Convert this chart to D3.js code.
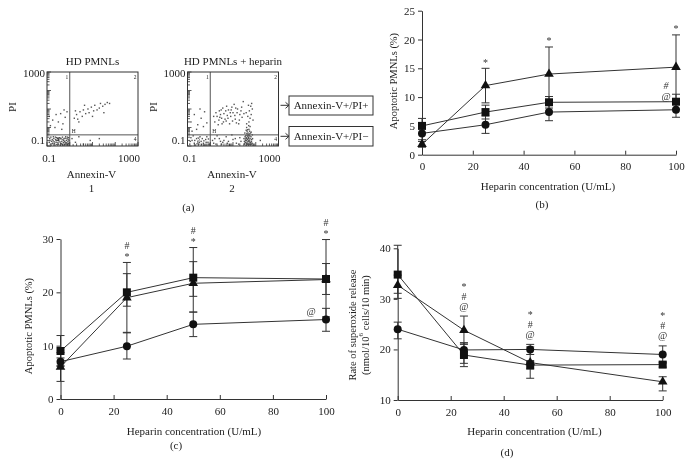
<!DOCTYPE html>
<html><head><meta charset="utf-8">
<script src="https://cdn.jsdelivr.net/npm/d3@7"></script>
<style>
body{margin:0;background:#fff}
svg{display:block;will-change:transform}
</style>
</head><body>
<svg id="chart" width="690" height="463"></svg>
<script>
// ---------------- DATA ----------------
const conc = [0, 25, 50, 100];
const xTickVals = [0, 20, 40, 60, 80, 100];

// Panel (b)
const bYTicks = [0, 5, 10, 15, 20, 25];
const bTriangle = [1.8, 12.0, 14.0, 15.2];
const bSquare   = [5.0, 7.4, 9.1, 9.2];
const bCircle   = [3.7, 5.2, 7.4, 7.8];
const bTriangleErr = [[0.5,0.5],[3.0,3.0],[4.7,4.7],[5.6,5.6]];
const bSquareErr   = [[1.3,1.3],[1.2,1.2],[1.0,1.0],[1.3,1.3]];
const bCircleErr   = [[1.1,1.1],[1.5,1.5],[1.5,1.5],[1.3,1.3]];
const bTopMarks  = [[], ["*"], ["*"], ["*"]];
const bSideMarks = ["@", "#"];

// Panel (c)
const cYTicks = [0, 10, 20, 30];
const cSquare   = [9.0, 20.0, 22.75, 22.5];
const cTriangle = [6.0, 19.0, 21.7, 22.4];
const cCircle   = [7.0, 9.9, 14.0, 14.9];
const cSquareErr   = [[2.9,2.9],[3.5,2.6],[3.0,3.5],[2.9,2.9]];
const cTriangleErr = [[2.7,2.7],[6.6,6.6],[6.7,5.4],[7.5,7.0]];
const cCircleErr   = [[0.7,0.7],[2.6,2.4],[2.3,2.3],[2.1,2.2]];
const cTopMarks  = [[], ["*","#"], ["*","#"], ["*","#"]];
const cSideMarks = ["@"];

// Panel (d)
const dYTicks = [10, 20, 30, 40];
const dSquare   = [34.8, 18.9, 16.9, 17.0];
const dTriangle = [32.7, 23.8, 17.4, 13.6];
const dCircle   = [24.0, 19.9, 20.0, 19.0];
const dSquareErr   = [[5.8,3.7],[2.4,2.3],[0.9,0.8],[0.5,0.5]];
const dTriangleErr = [[2.0,2.6],[2.8,2.8],[3.1,3.1],[1.0,1.8]];
const dCircleErr   = [[1.4,1.9],[1.4,2.65],[1.0,1.0],[1.7,1.7]];
const dTopMarks = [[], ["@","#","*"], ["@","#","*"], ["@","#","*"]];

// Panel (a): flow cytometry dots, [log10(Annexin-V), log10(PI)]
const flow1Log = [
 [-0.85,-0.9],[-0.8,-0.75],[-0.75,-0.85],[-0.7,-0.6],[-0.65,-0.95],[-0.6,-0.8],[-0.55,-0.7],[-0.5,-0.9],
 [-0.45,-0.55],[-0.4,-0.85],[-0.35,-0.75],[-0.3,-0.95],[-0.25,-0.6],[-0.2,-0.8],[-0.15,-0.7],[-0.1,-0.9],
 [-0.05,-0.55],[-0.88,-0.6],[-0.72,-0.5],[-0.62,-0.65],[-0.48,-0.72],[-0.38,-0.62],[-0.28,-0.82],[-0.18,-0.5],
 [-0.08,-0.75],[-0.82,-0.95],[-0.58,-0.55],[-0.42,-0.95],[-0.22,-0.92],[-0.12,-0.6],[-0.68,-0.78],[-0.52,-0.82],
 [-0.32,-0.52],[-0.9,-0.8],[-0.05,-0.85],
 [-0.87,-0.7],[-0.77,-0.65],[-0.67,-0.88],[-0.57,-0.92],[-0.47,-0.62],[-0.37,-0.88],[-0.27,-0.7],[-0.17,-0.88],
 [-0.07,-0.65],[-0.83,-0.52],[-0.73,-0.72],[-0.63,-0.52],[-0.53,-0.6],[-0.43,-0.78],[-0.33,-0.92],[-0.23,-0.75],
 [-0.13,-0.82],[-0.03,-0.7],[-0.78,-0.88],[-0.5,-0.68],[-0.4,-0.58],[-0.2,-0.58],[-0.1,-0.52],[-0.6,-0.7],[-0.3,-0.65],
 [-0.85,0.1],[-0.75,0.4],[-0.6,0.7],[-0.5,0.3],[-0.4,0.75],[-0.3,0.2],[-0.2,0.55],[-0.12,0.85],[-0.65,0.0],
 [-0.35,-0.1],[-0.9,0.6],[-0.25,0.95],
 [0.2,0.5],[0.3,0.7],[0.35,0.45],[0.45,0.85],[0.55,0.6],[0.6,0.95],[0.7,0.75],[0.8,1.0],[0.85,0.8],[0.95,1.1],
 [1.05,0.9],[1.1,1.2],[1.2,0.95],[1.3,1.05],[1.35,1.3],[1.45,1.15],[1.55,1.25],[1.65,1.35],[1.75,1.3],[0.4,0.3],
 [1.0,0.6],[0.25,0.9],[1.5,0.8],[0.65,1.2],
 [0.1,-0.6],[0.25,-0.8],[0.4,-0.5],[0.6,-0.9],[0.9,-0.7],[1.3,-0.6],[0.15,-0.95]
];
const flow2Log = [
 [1.5,-0.9],[1.55,-0.7],[1.6,-0.85],[1.65,-0.5],[1.7,-0.75],[1.75,-0.6],[1.8,-0.9],[1.85,-0.4],[1.52,-0.3],
 [1.62,-0.2],[1.72,-0.35],[1.58,-0.55],[1.68,-0.95],[1.78,-0.8],[1.48,-0.6],[1.64,-0.65],[1.74,-0.45],[1.56,-0.45],
 [1.66,-0.3],[1.7,-0.1],[1.6,0.0],[1.75,0.05],[1.55,-0.8],[1.82,-0.65],[1.68,-0.72],[1.62,-0.42],
 [1.5,-0.75],[1.53,-0.5],[1.57,-0.95],[1.6,-0.6],[1.63,-0.78],[1.66,-0.88],[1.69,-0.55],[1.71,-0.9],[1.73,-0.68],
 [1.76,-0.82],[1.79,-0.5],[1.81,-0.75],[1.84,-0.85],[1.54,-0.62],[1.61,-0.32],[1.67,-0.4],[1.73,-0.2],[1.77,-0.3],
 [1.64,-0.12],[1.69,0.1],[1.58,-0.15],[1.8,-0.25],[1.86,-0.6],[1.52,-0.85],[1.67,-0.6],[1.71,-0.78],[1.63,-0.9],
 [1.75,-0.9],[1.59,-0.7],[1.7,-0.45],
 [1.6,0.2],[1.7,0.3],[1.75,0.5],[1.65,0.6],[1.8,0.7],[1.72,0.9],[1.85,1.0],[1.78,1.15],[1.68,1.2],[1.82,1.3],
 [1.58,0.8],[1.88,0.4],
 [0.2,0.3],[0.3,0.6],[0.4,0.9],[0.5,0.5],[0.6,0.75],[0.7,0.35],[0.8,0.95],[0.9,0.6],[1.0,0.8],[1.1,0.45],
 [1.2,1.0],[1.3,0.7],[1.4,0.55],[0.35,0.15],[0.55,1.05],[0.75,0.65],[0.95,1.1],[1.15,0.25],[1.35,0.9],[1.45,1.4],
 [0.65,0.45],[0.85,0.2],[1.05,1.25],[0.45,0.7],
 [0.15,0.6],[0.25,0.8],[0.38,0.4],[0.48,0.95],[0.58,0.3],[0.68,0.9],[0.78,0.5],[0.88,0.8],[0.98,0.35],[1.08,0.65],
 [1.18,0.8],[1.28,0.4],[1.38,1.1],[1.48,0.75],[0.52,0.2],[0.72,1.15],[1.12,1.05],[1.25,0.2],[0.42,0.55],[0.92,0.95],
 [-0.85,0.3],[-0.7,0.7],[-0.55,0.15],[-0.4,0.5],[-0.25,0.85],[-0.15,0.25],[-0.6,-0.1],[-0.3,0.05],[-0.8,-0.2],
 [-0.45,1.0],
 [-0.9,-0.9],[-0.8,-0.7],[-0.7,-0.85],[-0.6,-0.6],[-0.5,-0.9],[-0.4,-0.75],[-0.3,-0.85],[-0.2,-0.65],[-0.1,-0.8],
 [-0.85,-0.55],[-0.65,-0.95],[-0.45,-0.5],[-0.25,-0.95],[-0.15,-0.5],[-0.55,-0.78],[-0.35,-0.6],[-0.75,-0.45],
 [-0.05,-0.9],[-0.88,-0.75],[-0.68,-0.7],[-0.48,-0.8],[-0.28,-0.72],[-0.08,-0.62],[-0.58,-0.88],[-0.38,-0.92],
 [-0.18,-0.8],
 [0.1,-0.7],[0.25,-0.9],[0.4,-0.6],[0.55,-0.8],[0.7,-0.5],[0.85,-0.95],[1.0,-0.65],[1.15,-0.85],[1.3,-0.55],
 [0.3,-0.45],[0.6,-0.7],[0.95,-0.4],[1.25,-0.9],[2.2,-0.7],
 [0.2,-0.6],[0.5,-0.9],[0.8,-0.75],[1.1,-0.6],[1.35,-0.75],[0.15,-0.85],[0.45,-0.75],[0.75,-0.85]
];
const flowTitles = ["HD PMNLs", "HD PMNLs + heparin"];
const flowNumbers = ["1", "2"];
const gateLabels = ["Annexin-V+/PI+", "Annexin-V+/PI\u2212"];

// ---------------- DRAWING ----------------
const FONT = "Liberation Serif, serif";
const INK = "#222";
const svg = d3.select("#chart");

function txt(g, x, y, s, size, anchor, extra) {
  const t = g.append("text").attr("x", x).attr("y", y).text(s)
    .attr("font-family", FONT).attr("font-size", size).attr("fill", INK)
    .attr("text-anchor", anchor || "middle").attr("dominant-baseline", "central");
  if (extra) extra(t);
  return t;
}

function styleAxis(a) {
  a.attr("font-family", FONT).attr("font-size", 11);
  a.select(".domain").attr("stroke", "#333");
  a.selectAll(".tick line").attr("stroke", "#333");
  a.selectAll(".tick text").attr("fill", INK);
}

function linePanel(o) {
  const g = svg.append("g");
  const x = d3.scaleLinear().domain([0, 100]).range([o.x0, o.x1]);
  const y = d3.scaleLinear().domain(o.yDomain).range([o.y0, o.y1]);

  const ya = g.append("g").attr("transform", `translate(${o.x0},0)`)
    .call(d3.axisLeft(y).tickValues(o.yTicks).tickSize(4).tickSizeOuter(0).tickPadding(3));
  styleAxis(ya);
  const xa = g.append("g").attr("transform", `translate(0,${o.y0})`)
    .call(d3.axisBottom(x).tickValues(xTickVals).tickSize(-4).tickSizeOuter(0).tickPadding(8));
  styleAxis(xa);

  const line = d3.line().x((d, i) => x(conc[i])).y(d => y(d));
  o.series.forEach(s => {
    g.append("path").attr("d", line(s.vals)).attr("fill", "none")
      .attr("stroke", "#333").attr("stroke-width", 1);
  });
  // error bars
  o.series.forEach(s => {
    s.vals.forEach((v, i) => {
      const cx = x(conc[i]);
      const hi = y(v + s.err[i][0]), lo = y(v - s.err[i][1]);
      g.append("line").attr("x1", cx).attr("x2", cx).attr("y1", hi).attr("y2", lo)
        .attr("stroke", "#333").attr("stroke-width", 1);
      [hi, lo].forEach(yy => g.append("line").attr("x1", cx - 4).attr("x2", cx + 4)
        .attr("y1", yy).attr("y2", yy).attr("stroke", "#333").attr("stroke-width", 1));
    });
  });
  // markers
  o.series.forEach(s => {
    s.vals.forEach((v, i) => {
      const cx = x(conc[i]), cy = y(v);
      if (s.shape === "square") {
        g.append("rect").attr("x", cx - 4).attr("y", cy - 4).attr("width", 8).attr("height", 8).attr("fill", "#111");
      } else if (s.shape === "circle") {
        g.append("circle").attr("cx", cx).attr("cy", cy).attr("r", 4).attr("fill", "#111");
      } else {
        g.append("path").attr("d", d3.symbol(d3.symbolTriangle, 40)())
          .attr("transform", `translate(${cx},${cy})`).attr("fill", "#111");
      }
    });
  });
  // significance marks
  const ag = g.append("g");
  o.topMarks.forEach((labels, i) => {
    if (!labels.length) return;
    const cap = d3.max(o.series, s => s.vals[i] + s.err[i][0]);
    labels.forEach((lab, k) => {
      txt(ag, x(conc[i]), y(cap) - o.topFirst - k * o.topGap, lab, 10)
        .attr("fill", "#333");
    });
  });
  if (o.side) {
    const s = o.side.series, i = o.side.index;
    const cap = s.vals[i] + s.err[i][0];
    o.side.labels.forEach((lab, k) => {
      txt(ag, x(conc[i]) + o.side.dx, y(cap) + o.side.first - k * 11, lab, 10,
        "middle", t => t.attr("font-style", "italic").attr("fill", "#333"));
    });
  }
  // titles
  o.yTitle.forEach((line, k) => {
    const t = txt(g, o.yTitleX[k], o.yTitleY, "", 10.5, "middle")
      .attr("transform", `rotate(-90,${o.yTitleX[k]},${o.yTitleY})`);
    line.forEach(part => {
      const ts = t.append("tspan").text(part.t);
      if (part.sup) ts.attr("font-size", 7).attr("dy", -4);
      if (part.after) ts.attr("dy", 4);
    });
  });
  txt(g, o.xTitleX, o.xTitleY, "Heparin concentration (U/mL)", 11);
  txt(g, o.labelX, o.labelY, o.label, 11);
}

// Panel (b)
linePanel({
  x0: 422, x1: 676, y0: 154.7, y1: 10.7, yDomain: [0, 25], yTicks: bYTicks,
  series: [
    { vals: bSquare, err: bSquareErr, shape: "square" },
    { vals: bCircle, err: bCircleErr, shape: "circle" },
    { vals: bTriangle, err: bTriangleErr, shape: "triangle" }
  ],
  topMarks: bTopMarks, topFirst: 6, topGap: 10,
  side: { series: { vals: bSquare, err: bSquareErr }, index: 3, labels: bSideMarks, dx: -10, first: 2.5 },
  yTitle: [[{ t: "Apoptotic PMNLs (%)" }]], yTitleX: [393], yTitleY: 81,
  xTitleX: 548, xTitleY: 185.7, label: "(b)", labelX: 542, labelY: 203.5
});

// Panel (c)
linePanel({
  x0: 60.5, x1: 326, y0: 399, y1: 239, yDomain: [0, 30], yTicks: cYTicks,
  series: [
    { vals: cCircle, err: cCircleErr, shape: "circle" },
    { vals: cTriangle, err: cTriangleErr, shape: "triangle" },
    { vals: cSquare, err: cSquareErr, shape: "square" }
  ],
  topMarks: cTopMarks, topFirst: 6, topGap: 11,
  side: { series: { vals: cCircle, err: cCircleErr }, index: 3, labels: cSideMarks, dx: -15, first: 3 },
  yTitle: [[{ t: "Apoptotic PMNLs (%)" }]], yTitleX: [27.5], yTitleY: 326,
  xTitleX: 194, xTitleY: 430.7, label: "(c)", labelX: 176, labelY: 445
});

// Panel (d)
linePanel({
  x0: 397.7, x1: 662.7, y0: 400, y1: 248.3, yDomain: [10, 40], yTicks: dYTicks,
  series: [
    { vals: dCircle, err: dCircleErr, shape: "circle" },
    { vals: dTriangle, err: dTriangleErr, shape: "triangle" },
    { vals: dSquare, err: dSquareErr, shape: "square" }
  ],
  topMarks: dTopMarks, topFirst: 10, topGap: 10,
  yTitle: [[{ t: "Rate of superoxide release" }],
           [{ t: "(nmol/10" }, { t: "6", sup: true }, { t: " cells/10 min)", after: true }]],
  yTitleX: [352, 365], yTitleY: 325,
  xTitleX: 534.5, xTitleY: 430.7, label: "(d)", labelX: 507, labelY: 451.5
});

// Panel (a)
function flowPlot(o, pts, title, num) {
  const g = svg.append("g");
  const x = d3.scaleLog().domain([0.1, 1000]).range([o.left, o.right]);
  const y = d3.scaleLog().domain([0.1, 1000]).range([o.bottom, o.top]);
  // dots
  g.selectAll("rect.dot").data(pts).enter().append("rect")
    .attr("x", d => x(Math.pow(10, d[0])) - 0.7).attr("y", d => y(Math.pow(10, d[1])) - 0.7)
    .attr("width", 1.4).attr("height", 1.4).attr("fill", "#555");
  // quadrant lines
  g.append("line").attr("x1", x(1)).attr("x2", x(1)).attr("y1", o.top).attr("y2", o.bottom)
    .attr("stroke", "#555").attr("stroke-width", 1);
  g.append("line").attr("x1", o.left).attr("x2", o.right).attr("y1", y(0.4)).attr("y2", y(0.4))
    .attr("stroke", "#555").attr("stroke-width", 1);
  // frame
  g.append("rect").attr("x", o.left).attr("y", o.top).attr("width", o.right - o.left)
    .attr("height", o.bottom - o.top).attr("fill", "none").attr("stroke", "#333").attr("stroke-width", 1);
  // log ticks
  x.ticks().forEach(v => {
    const major = Math.abs(Math.log10(v) - Math.round(Math.log10(v))) < 1e-6;
    g.append("line").attr("x1", x(v)).attr("x2", x(v)).attr("y1", o.bottom).attr("y2", o.bottom - (major ? 4 : 2.5))
      .attr("stroke", "#333").attr("stroke-width", 0.8);
  });
  y.ticks().forEach(v => {
    const major = Math.abs(Math.log10(v) - Math.round(Math.log10(v))) < 1e-6;
    g.append("line").attr("y1", y(v)).attr("y2", y(v)).attr("x1", o.left).attr("x2", o.left + (major ? 4 : 2.5))
      .attr("stroke", "#333").attr("stroke-width", 0.8);
  });
  // quadrant numbers
  txt(g, x(1) - 3, o.top + 5, "1", 5.5);
  txt(g, o.right - 3, o.top + 5, "2", 5.5);
  txt(g, x(1) + 4, y(0.4) - 3.5, "H", 5.5);
  txt(g, x(0.3), y(0.4) + 4.5, "3", 5.5);
  txt(g, o.right - 3, y(0.4) + 4.5, "4", 5.5);
  // labels
  txt(g, (o.left + o.right) / 2, 61, title, 11);
  txt(g, o.left - 2, o.top + 0.5, "1000", 11, "end");
  txt(g, o.left - 2, o.bottom - 6, "0.1", 11, "end");
  txt(g, x(0.1) + 2, 158.3, "0.1", 11);
  txt(g, x(1000) - 9, 158.3, "1000", 11);
  txt(g, (o.left + o.right) / 2 - 1, 174, "Annexin-V", 11);
  txt(g, (o.left + o.right) / 2 - 1, 188.3, num, 11);
  const px = o.left - 35, py = 107;
  txt(g, px, py, "PI", 11).attr("transform", `rotate(-90,${px},${py})`);
}
flowPlot({ left: 47, right: 138, top: 72, bottom: 146 }, flow1Log, flowTitles[0], flowNumbers[0]);
flowPlot({ left: 187.5, right: 278.5, top: 72, bottom: 146 }, flow2Log, flowTitles[1], flowNumbers[1]);

// gate boxes with arrows
const ga = svg.append("g");
[[105.3, 96, 115], [136.3, 126.5, 146]].forEach((b, k) => {
  ga.append("line").attr("x1", 280.5).attr("x2", 289).attr("y1", b[0]).attr("y2", b[0]).attr("stroke", "#333");
  ga.append("path").attr("d", `M285.5,${b[0] - 3}L289,${b[0]}L285.5,${b[0] + 3}`).attr("fill", "none").attr("stroke", "#333");
  ga.append("rect").attr("x", 289).attr("y", b[1]).attr("width", 84).attr("height", b[2] - b[1])
    .attr("fill", "#fff").attr("stroke", "#333");
  txt(ga, 331, b[0], gateLabels[k], 11);
});
txt(svg, 188.3, 206.7, "(a)", 11);
</script>
</body></html>
